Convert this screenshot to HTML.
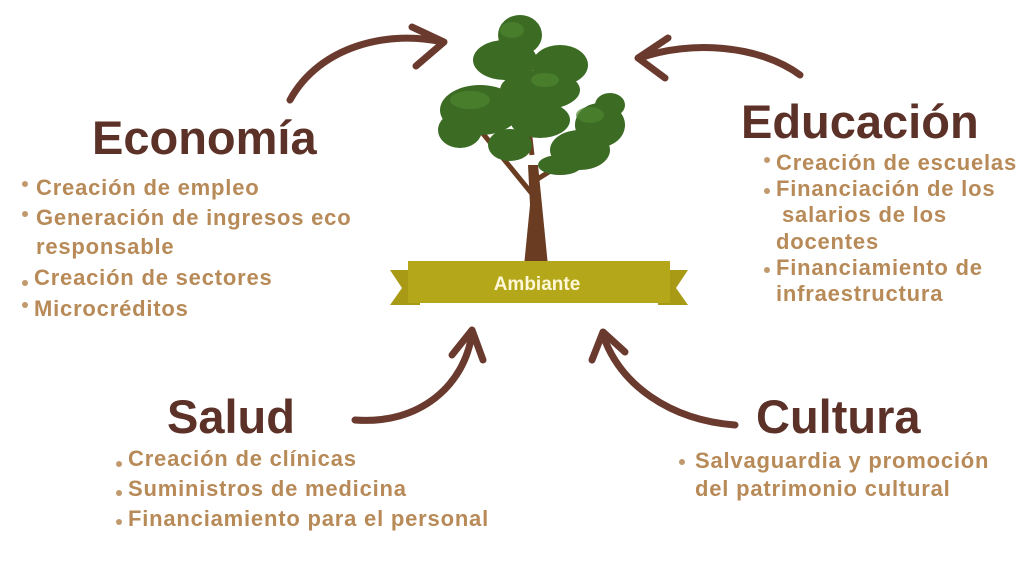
<!DOCTYPE html>
<html><head><meta charset="utf-8"><style>
body{margin:0;width:1024px;height:576px;background:#fff;position:relative;overflow:hidden;font-family:"Liberation Sans",Arial,sans-serif;}
.h{position:absolute;font-weight:bold;color:#5b3128;font-size:47px;line-height:1;}
.t{position:absolute;font-weight:bold;color:#b78a58;font-size:22px;letter-spacing:0.8px;line-height:24px;white-space:nowrap;transform:translateY(-12px);}
.d{position:absolute;width:6px;height:6px;border-radius:3px;background:#c09a6c;}
</style></head><body>
<svg width="1024" height="576" style="position:absolute;left:0;top:0">
<g fill="none" stroke="#6b3a2e" stroke-width="7" stroke-linecap="round" stroke-linejoin="round">
<path d="M290 100 C320 45 390 30 442 42"/><path d="M412 27 L444 42 L416 66"/>
<path d="M800 75 C760 45 690 40 640 58"/><path d="M668 38 L638 58 L665 78"/>
<path d="M355 420 C420 425 465 385 472 333"/><path d="M452 355 L472 330 L483 360"/>
<path d="M735 425 C670 420 620 385 603 335"/><path d="M592 360 L603 332 L625 352"/>
</g>
<path d="M524 266 L530 205 L528 165 L538 165 L542 205 L548 266 Z" fill="#6a3d22"/>
<path d="M533 195 L480 130 M536 180 L600 140 M532 155 L525 95" stroke="#6a3d22" stroke-width="5" fill="none"/>
<g fill="#3c6b24">
<ellipse cx="520" cy="35" rx="22" ry="20"/><ellipse cx="505" cy="60" rx="32" ry="20"/>
<ellipse cx="560" cy="65" rx="28" ry="20"/><ellipse cx="540" cy="90" rx="40" ry="20"/>
<ellipse cx="480" cy="110" rx="40" ry="25"/><ellipse cx="460" cy="130" rx="22" ry="18"/>
<ellipse cx="540" cy="120" rx="30" ry="18"/><ellipse cx="600" cy="125" rx="25" ry="22"/>
<ellipse cx="610" cy="105" rx="15" ry="12"/><ellipse cx="580" cy="150" rx="30" ry="20"/>
<ellipse cx="510" cy="145" rx="22" ry="16"/><ellipse cx="560" cy="165" rx="22" ry="10"/>
</g>
<g fill="#4e8530" opacity=".7"><ellipse cx="512" cy="30" rx="12" ry="8"/><ellipse cx="470" cy="100" rx="20" ry="9"/><ellipse cx="590" cy="115" rx="14" ry="8"/><ellipse cx="545" cy="80" rx="14" ry="7"/></g>
<polygon points="390,270 420,270 420,305 390,305 402,288" fill="#a89a14"/>
<polygon points="688,270 658,270 658,305 688,305 676,288" fill="#a89a14"/>
<rect x="408" y="261" width="262" height="42" fill="#b4a71a"/>
<text x="537" y="290" text-anchor="middle" font-family="Liberation Sans,Arial,sans-serif" font-weight="bold" font-size="19" fill="#fff8d8">Ambiante</text>
</svg>
<div class="h" style="left:92px;top:114px">Economía</div>
<div class="d" style="left:22px;top:181px"></div><div class="t" style="left:36px;top:188px">Creación de empleo</div>
<div class="d" style="left:22px;top:211px"></div><div class="t" style="left:36px;top:218px">Generación de ingresos eco</div>
<div class="t" style="left:36px;top:247px">responsable</div>
<div class="d" style="left:22px;top:280px"></div><div class="t" style="left:34px;top:278px">Creación de sectores</div>
<div class="d" style="left:22px;top:302px"></div><div class="t" style="left:34px;top:309px">Microcréditos</div>

<div class="h" style="left:741px;top:98px">Educación</div>
<div class="d" style="left:764px;top:157px"></div><div class="t" style="left:776px;top:163px">Creación de escuelas</div>
<div class="d" style="left:764px;top:188px"></div><div class="t" style="left:776px;top:189px">Financiación de los</div>
<div class="t" style="left:782px;top:215px">salarios de los</div>
<div class="t" style="left:776px;top:242px">docentes</div>
<div class="d" style="left:764px;top:267px"></div><div class="t" style="left:776px;top:268px">Financiamiento de</div>
<div class="t" style="left:776px;top:294px">infraestructura</div>

<div class="h" style="left:167px;top:393px">Salud</div>
<div class="d" style="left:116px;top:461px"></div><div class="t" style="left:128px;top:459px">Creación de clínicas</div>
<div class="d" style="left:116px;top:490px"></div><div class="t" style="left:128px;top:489px">Suministros de medicina</div>
<div class="d" style="left:116px;top:519px"></div><div class="t" style="left:128px;top:519px">Financiamiento para el personal</div>

<div class="h" style="left:756px;top:393px">Cultura</div>
<div class="d" style="left:679px;top:459px"></div><div class="t" style="left:695px;top:461px">Salvaguardia y promoción</div>
<div class="t" style="left:695px;top:489px">del patrimonio cultural</div>
</body></html>
